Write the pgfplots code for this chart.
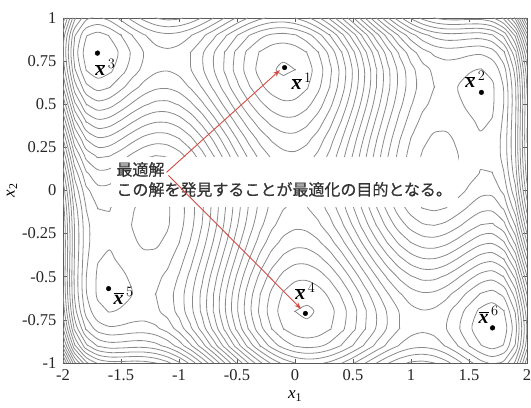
\documentclass[border=0pt]{standalone}
\usepackage{fontspec}
\setmainfont{Liberation Serif}
\newfontfamily\jpfont{Noto Sans CJK JP}[FakeBold=0.6]
\usepackage{pgfplots}
\usepackage{pgfplotstable}
\pgfplotsset{compat=1.18}
\usetikzlibrary{arrows.meta}

\definecolor{contourgray}{RGB}{138,138,138}
\definecolor{arrowred}{RGB}{212,74,66}
\definecolor{framegray}{RGB}{90,90,90}

% f(x1,x2) = (4 - 2.1 x1^2 + x1^4/3) x1^2 + x1 x2 + (-4 + 4 x2^2) x2^2
% columns: x1 = -2.0, -1.9, ..., 2.0 ; rows: x2 = -1.0, -0.9, ..., 1.0
\pgfplotstableread[header=false]{
5.733 4.655 4.053 3.767 3.670 3.666 3.683 3.671 3.601 3.456 3.233 2.939 2.587 2.195 1.783 1.374 0.988 0.643 0.357 0.140 0.000 -0.060 -0.043 0.043 0.188 0.374 0.583 0.795 0.987 1.139 1.233 1.256 1.201 1.071 0.882 0.666 0.470 0.366 0.452 0.855 1.733
4.918 3.849 3.257 2.981 2.894 2.900 2.927 2.926 2.865 2.730 2.518 2.234 1.892 1.509 1.108 0.708 0.332 -0.002 -0.279 -0.486 -0.616 -0.666 -0.639 -0.542 -0.388 -0.192 0.028 0.249 0.452 0.614 0.718 0.750 0.705 0.586 0.407 0.200 0.014 -0.079 0.017 0.429 1.318
4.412 3.353 2.771 2.505 2.428 2.444 2.481 2.490 2.439 2.314 2.112 1.838 1.506 1.133 0.742 0.352 -0.014 -0.338 -0.605 -0.802 -0.922 -0.962 -0.925 -0.818 -0.654 -0.448 -0.218 0.013 0.226 0.398 0.512 0.554 0.519 0.410 0.241 0.044 -0.132 -0.215 -0.109 0.313 1.212
4.134 3.085 2.513 2.257 2.190 2.216 2.263 2.282 2.241 2.126 1.934 1.670 1.348 0.985 0.604 0.224 -0.132 -0.446 -0.703 -0.890 -1.000 -1.030 -0.983 -0.866 -0.692 -0.476 -0.236 0.005 0.228 0.410 0.534 0.586 0.561 0.462 0.303 0.116 -0.050 -0.123 -0.007 0.425 1.334
4.012 2.973 2.411 2.165 2.108 2.144 2.201 2.230 2.199 2.094 1.912 1.658 1.346 0.993 0.622 0.252 -0.094 -0.398 -0.645 -0.822 -0.922 -0.942 -0.885 -0.758 -0.574 -0.348 -0.098 0.153 0.386 0.578 0.712 0.774 0.759 0.670 0.521 0.344 0.188 0.125 0.251 0.693 1.612
3.983 2.955 2.403 2.167 2.120 2.166 2.233 2.271 2.251 2.156 1.983 1.739 1.437 1.095 0.733 0.374 0.038 -0.257 -0.493 -0.660 -0.750 -0.760 -0.693 -0.557 -0.362 -0.126 0.133 0.395 0.637 0.839 0.983 1.056 1.051 0.971 0.833 0.666 0.520 0.467 0.603 1.055 1.983
3.996 2.977 2.435 2.209 2.172 2.228 2.305 2.354 2.343 2.258 2.096 1.862 1.570 1.237 0.886 0.536 0.210 -0.074 -0.301 -0.458 -0.538 -0.538 -0.461 -0.314 -0.110 0.136 0.406 0.677 0.930 1.142 1.296 1.378 1.383 1.314 1.185 1.028 0.892 0.849 0.995 1.457 2.396
4.006 2.997 2.465 2.249 2.222 2.288 2.375 2.434 2.433 2.358 2.206 1.982 1.700 1.377 1.036 0.696 0.380 0.106 -0.111 -0.258 -0.328 -0.318 -0.231 -0.074 0.140 0.396 0.676 0.957 1.220 1.442 1.606 1.698 1.713 1.654 1.535 1.388 1.262 1.229 1.385 1.857 2.806
3.980 2.981 2.459 2.253 2.236 2.312 2.409 2.478 2.487 2.422 2.280 2.066 1.794 1.481 1.150 0.820 0.514 0.250 0.043 -0.094 -0.154 -0.134 -0.037 0.130 0.354 0.620 0.910 1.201 1.474 1.706 1.880 1.982 2.007 1.958 1.849 1.712 1.596 1.573 1.739 2.221 3.180
3.894 2.905 2.393 2.197 2.190 2.276 2.383 2.462 2.481 2.426 2.294 2.090 1.828 1.525 1.204 0.884 0.588 0.334 0.137 0.010 -0.040 -0.010 0.097 0.274 0.508 0.784 1.084 1.385 1.668 1.910 2.094 2.206 2.241 2.202 2.103 1.976 1.870 1.857 2.033 2.525 3.494
3.733 2.755 2.252 2.066 2.070 2.166 2.282 2.371 2.401 2.356 2.233 2.039 1.787 1.495 1.183 0.874 0.588 0.343 0.157 0.040 0.000 0.040 0.157 0.343 0.588 0.874 1.183 1.495 1.787 2.039 2.233 2.356 2.401 2.371 2.282 2.166 2.070 2.066 2.252 2.755 3.733
3.494 2.525 2.033 1.857 1.870 1.976 2.103 2.202 2.241 2.206 2.094 1.910 1.668 1.385 1.084 0.784 0.508 0.274 0.097 -0.010 -0.040 0.010 0.137 0.334 0.588 0.884 1.204 1.525 1.828 2.090 2.294 2.426 2.481 2.462 2.383 2.276 2.190 2.197 2.393 2.905 3.894
3.180 2.221 1.739 1.573 1.596 1.712 1.849 1.958 2.007 1.982 1.880 1.706 1.474 1.201 0.910 0.620 0.354 0.130 -0.037 -0.134 -0.154 -0.094 0.043 0.250 0.514 0.820 1.150 1.481 1.794 2.066 2.280 2.422 2.487 2.478 2.409 2.312 2.236 2.253 2.459 2.981 3.980
2.806 1.857 1.385 1.229 1.262 1.388 1.535 1.654 1.713 1.698 1.606 1.442 1.220 0.957 0.676 0.396 0.140 -0.074 -0.231 -0.318 -0.328 -0.258 -0.111 0.106 0.380 0.696 1.036 1.377 1.700 1.982 2.206 2.358 2.433 2.434 2.375 2.288 2.222 2.249 2.465 2.997 4.006
2.396 1.457 0.995 0.849 0.892 1.028 1.185 1.314 1.383 1.378 1.296 1.142 0.930 0.677 0.406 0.136 -0.110 -0.314 -0.461 -0.538 -0.538 -0.458 -0.301 -0.074 0.210 0.536 0.886 1.237 1.570 1.862 2.096 2.258 2.343 2.354 2.305 2.228 2.172 2.209 2.435 2.977 3.996
1.983 1.055 0.603 0.467 0.520 0.666 0.833 0.971 1.051 1.056 0.983 0.839 0.637 0.395 0.133 -0.126 -0.362 -0.557 -0.693 -0.760 -0.750 -0.660 -0.493 -0.257 0.038 0.374 0.733 1.095 1.437 1.739 1.983 2.156 2.251 2.271 2.233 2.166 2.120 2.167 2.403 2.955 3.983
1.612 0.693 0.251 0.125 0.188 0.344 0.521 0.670 0.759 0.774 0.712 0.578 0.386 0.153 -0.098 -0.348 -0.574 -0.758 -0.885 -0.942 -0.922 -0.822 -0.645 -0.398 -0.094 0.252 0.622 0.993 1.346 1.658 1.912 2.094 2.199 2.230 2.201 2.144 2.108 2.165 2.411 2.973 4.012
1.334 0.425 -0.007 -0.123 -0.050 0.116 0.303 0.462 0.561 0.586 0.534 0.410 0.228 0.005 -0.236 -0.476 -0.692 -0.866 -0.983 -1.030 -1.000 -0.890 -0.703 -0.446 -0.132 0.224 0.604 0.985 1.348 1.670 1.934 2.126 2.241 2.282 2.263 2.216 2.190 2.257 2.513 3.085 4.134
1.212 0.313 -0.109 -0.215 -0.132 0.044 0.241 0.410 0.519 0.554 0.512 0.398 0.226 0.013 -0.218 -0.448 -0.654 -0.818 -0.925 -0.962 -0.922 -0.802 -0.605 -0.338 -0.014 0.352 0.742 1.133 1.506 1.838 2.112 2.314 2.439 2.490 2.481 2.444 2.428 2.505 2.771 3.353 4.412
1.318 0.429 0.017 -0.079 0.014 0.200 0.407 0.586 0.705 0.750 0.718 0.614 0.452 0.249 0.028 -0.192 -0.388 -0.542 -0.639 -0.666 -0.616 -0.486 -0.279 -0.002 0.332 0.708 1.108 1.509 1.892 2.234 2.518 2.730 2.865 2.926 2.927 2.900 2.894 2.981 3.257 3.849 4.918
1.733 0.855 0.452 0.366 0.470 0.666 0.882 1.071 1.201 1.256 1.233 1.139 0.987 0.795 0.583 0.374 0.188 0.043 -0.043 -0.060 0.000 0.140 0.357 0.643 0.988 1.374 1.783 2.195 2.587 2.939 3.233 3.456 3.601 3.671 3.683 3.666 3.670 3.767 4.053 4.655 5.733
}\fgrid

% Contour lines of the grid: marching squares at the levels -1.0, -0.8, ..., 5.6,
% then the segments of each level are chained into polylines through shared cell edges.
\ExplSyntaxOn
\fp_new:N \l__ct_a_fp
\fp_new:N \l__ct_b_fp
\fp_new:N \l__ct_c_fp
\fp_new:N \l__ct_d_fp
\fp_new:N \l__ct_lev_fp
\fp_new:N \l__ct_t_fp
\tl_new:N \l__ct_xa_tl
\tl_new:N \l__ct_xb_tl
\tl_new:N \l__ct_ya_tl
\tl_new:N \l__ct_yb_tl
\tl_new:N \l__ct_ida_tl
\tl_new:N \l__ct_idb_tl
\tl_new:N \l__ct_line_tl
\tl_new:N \l__ct_prev_tl
\tl_new:N \l__ct_cur_tl
\tl_new:N \l__ct_next_tl
\tl_new:N \l__ct_start_tl
\bool_new:N \l__ct_go_bool
\seq_new:N \l__ct_pts_seq
\seq_new:N \l__ct_ids_seq
\int_new:N \l__ct_kmin_int
\int_new:N \l__ct_kmax_int
\int_new:N \l__ct_k_int
\tl_new:N \g__ct_plots_tl

\int_step_inline:nnn { 0 } { 33 } { \seq_new:c { g__ct_E_ #1 _seq } }

\int_step_inline:nnn { 0 } { 20 }
  {
    \int_step_inline:nnn { 0 } { 40 }
      {
        \pgfplotstablegetelem { #1 } { ##1 } \of \fgrid
        \tl_gset:cx { g__ct_z_ ##1 _ #1 _tl } { \pgfplotsretval }
      }
  }

\cs_new:Npn \__ct_z:nn #1#2 { \tl_use:c { g__ct_z_ #1 _ #2 _tl } }

% crossing on one cell edge, always measured from its lower/left end
\cs_new_protected:Npn \__ct_edge:NNnnnnn #1#2#3#4#5#6#7
  {
    \fp_compare:nNnT { (#1 > \l__ct_lev_fp) + (#2 > \l__ct_lev_fp) } = { 1 }
      {
        \fp_set:Nn \l__ct_t_fp { (\l__ct_lev_fp - #1) / (#2 - #1) }
        \seq_put_right:Nx \l__ct_pts_seq
          {
            ( \fp_eval:n { round( (#3) + \l__ct_t_fp * ( (#5) - (#3) ) , 4 ) } ,
              \fp_eval:n { round( (#4) + \l__ct_t_fp * ( (#6) - (#4) ) , 4 ) } )
          }
        \seq_put_right:Nx \l__ct_ids_seq { #7 }
      }
  }

\cs_new_protected:Npn \__ct_link:nn #1#2
  {
    \tl_set:Nx \l__ct_ida_tl { \seq_item:Nn \l__ct_ids_seq {#1} }
    \tl_set:Nx \l__ct_idb_tl { \seq_item:Nn \l__ct_ids_seq {#2} }
    \tl_if_exist:cF { g__ct_P_ \int_use:N \l__ct_k_int _ \l__ct_ida_tl _tl }
      {
        \tl_gset:cx { g__ct_P_ \int_use:N \l__ct_k_int _ \l__ct_ida_tl _tl }
          { \seq_item:Nn \l__ct_pts_seq {#1} }
        \tl_gset:cn { g__ct_N_ \int_use:N \l__ct_k_int _ \l__ct_ida_tl _tl } { }
        \seq_gput_right:cx { g__ct_E_ \int_use:N \l__ct_k_int _seq } { \l__ct_ida_tl }
      }
    \tl_gput_right:cx { g__ct_N_ \int_use:N \l__ct_k_int _ \l__ct_ida_tl _tl }
      { { \l__ct_idb_tl } }
  }

\cs_new_protected:Npn \__ct_segment:nn #1#2
  { \__ct_link:nn {#1} {#2} \__ct_link:nn {#2} {#1} }

\cs_new_protected:Npn \__ct_level:nnn #1#2#3
  {
    \int_set:Nn \l__ct_k_int {#3}
    \fp_set:Nn \l__ct_lev_fp { -1 + 0.2 * #3 }
    \seq_clear:N \l__ct_pts_seq
    \seq_clear:N \l__ct_ids_seq
    \__ct_edge:NNnnnnn \l__ct_a_fp \l__ct_b_fp { \l__ct_xa_tl } { \l__ct_ya_tl } { \l__ct_xb_tl } { \l__ct_ya_tl }
      { h_ #1 _ #2 }
    \__ct_edge:NNnnnnn \l__ct_b_fp \l__ct_c_fp { \l__ct_xb_tl } { \l__ct_ya_tl } { \l__ct_xb_tl } { \l__ct_yb_tl }
      { v_ \int_eval:n { #1 + 1 } _ #2 }
    \__ct_edge:NNnnnnn \l__ct_d_fp \l__ct_c_fp { \l__ct_xa_tl } { \l__ct_yb_tl } { \l__ct_xb_tl } { \l__ct_yb_tl }
      { h_ #1 _ \int_eval:n { #2 + 1 } }
    \__ct_edge:NNnnnnn \l__ct_a_fp \l__ct_d_fp { \l__ct_xa_tl } { \l__ct_ya_tl } { \l__ct_xa_tl } { \l__ct_yb_tl }
      { v_ #1 _ #2 }
    \int_case:nn { \seq_count:N \l__ct_pts_seq }
      {
        { 2 } { \__ct_segment:nn { 1 } { 2 } }
        { 4 }
          {
            \fp_compare:nNnTF { \l__ct_a_fp > \l__ct_lev_fp }
              = { (\l__ct_a_fp + \l__ct_b_fp + \l__ct_c_fp + \l__ct_d_fp) / 4 > \l__ct_lev_fp }
              { \__ct_segment:nn { 1 } { 2 } \__ct_segment:nn { 3 } { 4 } }
              { \__ct_segment:nn { 1 } { 4 } \__ct_segment:nn { 2 } { 3 } }
          }
      }
  }

\cs_new_protected:Npn \__ct_cell:nn #1#2
  {
    \fp_set:Nn \l__ct_a_fp { \__ct_z:nn {#1} {#2} }
    \fp_set:Nn \l__ct_b_fp { \__ct_z:nn { \int_eval:n { #1 + 1 } } {#2} }
    \fp_set:Nn \l__ct_c_fp { \__ct_z:nn { \int_eval:n { #1 + 1 } } { \int_eval:n { #2 + 1 } } }
    \fp_set:Nn \l__ct_d_fp { \__ct_z:nn {#1} { \int_eval:n { #2 + 1 } } }
    \tl_set:Nx \l__ct_xa_tl { \fp_eval:n { -2 + 0.1 * #1 } }
    \tl_set:Nx \l__ct_xb_tl { \fp_eval:n { -2 + 0.1 * ( #1 + 1 ) } }
    \tl_set:Nx \l__ct_ya_tl { \fp_eval:n { -1 + 0.1 * #2 } }
    \tl_set:Nx \l__ct_yb_tl { \fp_eval:n { -1 + 0.1 * ( #2 + 1 ) } }
    \int_set:Nn \l__ct_kmin_int
      { \fp_eval:n { max( 0 , ceil( ( min( \l__ct_a_fp , \l__ct_b_fp , \l__ct_c_fp , \l__ct_d_fp ) + 1 ) / 0.2 ) ) } }
    \int_set:Nn \l__ct_kmax_int
      { \fp_eval:n { min( 33 , floor( ( max( \l__ct_a_fp , \l__ct_b_fp , \l__ct_c_fp , \l__ct_d_fp ) + 1 ) / 0.2 ) ) } }
    \int_step_inline:nnn { \l__ct_kmin_int } { \l__ct_kmax_int }
      { \__ct_level:nnn {#1} {#2} {##1} }
  }

\int_step_inline:nnn { 0 } { 39 }
  { \int_step_inline:nnn { 0 } { 19 } { \__ct_cell:nn {#1} {##1} } }

% follow one chain of crossings, starting at edge #2 of level #1
\cs_new_protected:Npn \__ct_walk:nn #1#2
  {
    \tl_set:Nn \l__ct_start_tl {#2}
    \tl_set:Nx \l__ct_line_tl { \tl_use:c { g__ct_P_ #1 _ #2 _tl } }
    \cs_gset_eq:cN { g__ct_V_ #1 _ #2 } \c_true_bool
    \tl_clear:N \l__ct_prev_tl
    \tl_set:Nn \l__ct_cur_tl {#2}
    \bool_set_true:N \l__ct_go_bool
    \bool_while_do:Nn \l__ct_go_bool
      {
        \tl_clear:N \l__ct_next_tl
        \tl_map_inline:cn { g__ct_N_ #1 _ \l__ct_cur_tl _tl }
          {
            \tl_if_empty:NT \l__ct_next_tl
              { \str_if_eq:VnF \l__ct_prev_tl {##1} { \tl_set:Nn \l__ct_next_tl {##1} } }
          }
        \tl_if_empty:NTF \l__ct_next_tl
          { \bool_set_false:N \l__ct_go_bool }
          {
            \cs_if_exist:cTF { g__ct_V_ #1 _ \l__ct_next_tl }
              {
                \str_if_eq:VVT \l__ct_next_tl \l__ct_start_tl
                  { \tl_put_right:Nx \l__ct_line_tl { \tl_use:c { g__ct_P_ #1 _ #2 _tl } } }
                \bool_set_false:N \l__ct_go_bool
              }
              {
                \tl_put_right:Nx \l__ct_line_tl { \tl_use:c { g__ct_P_ #1 _ \l__ct_next_tl _tl } }
                \cs_gset_eq:cN { g__ct_V_ #1 _ \l__ct_next_tl } \c_true_bool
                \tl_set_eq:NN \l__ct_prev_tl \l__ct_cur_tl
                \tl_set_eq:NN \l__ct_cur_tl \l__ct_next_tl
              }
          }
      }
    \tl_gput_right:Nx \g__ct_plots_tl
      { \exp_not:N \addplot [contourline] coordinates { \exp_not:V \l__ct_line_tl } ; }
  }

\int_step_inline:nnn { 0 } { 33 }
  {
    \seq_map_inline:cn { g__ct_E_ #1 _seq }
      {
        \int_compare:nNnT { \tl_count:c { g__ct_N_ #1 _ ##1 _tl } } = { 1 }
          { \cs_if_exist:cF { g__ct_V_ #1 _ ##1 } { \__ct_walk:nn {#1} {##1} } }
      }
    \seq_map_inline:cn { g__ct_E_ #1 _seq }
      { \cs_if_exist:cF { g__ct_V_ #1 _ ##1 } { \__ct_walk:nn {#1} {##1} } }
  }

\cs_new_protected:Npn \DrawContourLines { \tl_use:N \g__ct_plots_tl }
\ExplSyntaxOff

\newcommand\xb[1]{$\overline{\textbf{\textit{x}}}^{\,#1}$}
\newcommand\labfont{\fontsize{17}{20}\selectfont}

\begin{document}
\begin{tikzpicture}
\begin{axis}[
  scale only axis, width=464pt, height=345pt,
  xmin=-2, xmax=2, ymin=-1, ymax=1,
  xtick={-2,-1.5,-1,-0.5,0,0.5,1,1.5,2},
  ytick={-1,-0.75,-0.5,-0.25,0,0.25,0.5,0.75,1},
  tick align=inside,
  major tick length=4pt,
  axis line style={framegray, line width=0.5pt},
  tick style={framegray, line width=0.5pt},
  /pgf/number format/assume math mode=true,
  ticklabel style={font=\fontsize{16.5}{19}\selectfont, text=black!85},
  yticklabel style={xshift=-3pt},
  xticklabel style={yshift=-3pt},
  clip mode=individual,
  contourline/.style={contourgray, line width=0.8pt, line cap=round, line join=round,
    mark=none, smooth, tension=0.5},
]
\DrawContourLines

% annotation backdrop and text
\fill[white] (axis cs:-1.584,-0.093) rectangle (axis cs:1.403,0.192);
\node[anchor=west, inner sep=0pt, text=black!80, font=\jpfont\fontsize{16}{20}\selectfont]
  at (axis cs:-1.541,0.122) {最適解};
\node[anchor=west, inner sep=0pt, text=black!80, font=\jpfont\fontsize{16}{20}\selectfont]
  at (axis cs:-1.541,0.006) {この解を発見することが最適化の目的となる。};

\draw[arrowred, line width=0.9pt, -{Stealth[length=7pt, width=5pt]}]
  (axis cs:-1.108,0.105) -- (axis cs:-0.13,0.698);
\draw[arrowred, line width=0.9pt, -{Stealth[length=7pt, width=5pt]}]
  (axis cs:-1.091,0.087) -- (axis cs:0.052,-0.686);

% local minima
\addplot[only marks, mark=*, mark size=2.3pt, black] coordinates {
  (-0.0898,0.7126) (1.6071,0.5687) (-1.7036,0.7961)
  (0.0898,-0.7126) (-1.6071,-0.5687) (1.7036,-0.7961)
};
\path[font=\fontsize{20}{24}\selectfont]
  (axis cs:-0.0898,0.7126) ++(17pt,-14pt) node {\xb{1}}
  (axis cs:1.6071,0.5687) ++(-6pt,13pt) node {\xb{2}}
  (axis cs:-1.7036,0.7961) ++(8pt,-14pt) node {\xb{3}}
  (axis cs:0.0898,-0.7126) ++(0pt,22pt) node {\xb{4}}
  (axis cs:-1.6071,-0.5687) ++(15pt,-7pt) node {\xb{5}}
  (axis cs:1.7036,-0.7961) ++(-4pt,13pt) node {\xb{6}};

\coordinate (sw) at (rel axis cs:0,0);
\coordinate (ne) at (rel axis cs:1,1);
\coordinate (yl) at (rel axis cs:0,0.5);
\coordinate (xl) at (rel axis cs:0.5,0);
\end{axis}
\node[rotate=90, font=\labfont] at ([xshift=-51pt]yl) {\textit{x}\textsubscript{2}};
\node[font=\labfont] at ([yshift=-33pt]xl) {\textit{x}\textsubscript{1}};
\pgfresetboundingbox
\path ([xshift=-63pt,yshift=-45pt]sw) rectangle ([xshift=4pt,yshift=18pt]ne);
\end{tikzpicture}
\end{document}
